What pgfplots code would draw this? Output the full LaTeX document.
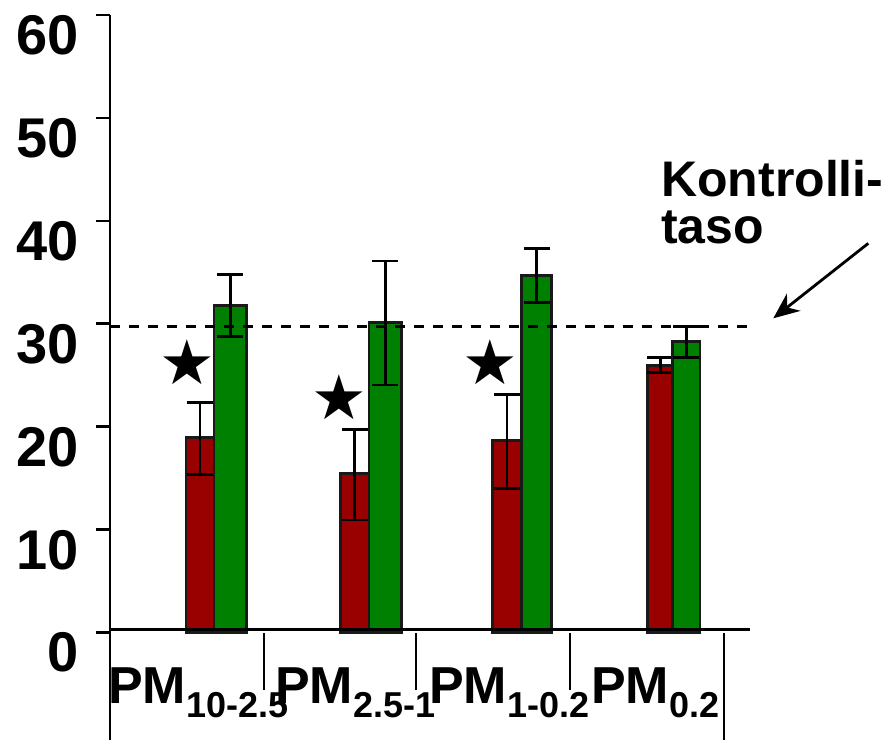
\documentclass[border=0pt]{standalone}
\usepackage{fontspec}
\setmainfont{Liberation Sans}
\newfontfamily\symfont{DejaVu Sans}
\usepackage{pgfplots}
\pgfplotsset{compat=1.18}
\usetikzlibrary{arrows.meta}
\definecolor{barred}{RGB}{153,0,0}
\definecolor{bargreen}{RGB}{0,128,0}
\newcommand{\pmlab}[1]{\bfseries\fontsize{52}{56}\selectfont PM\raisebox{-14pt}{\fontsize{36}{40}\selectfont #1}}
\begin{document}
\begin{tikzpicture}
\useasboundingbox (0pt,0pt) rectangle (887pt,-740pt);
\begin{axis}[
  at={(110pt,-632.7pt)}, anchor=south west,
  scale only axis, width=640pt, height=617.7pt,
  xmin=110, xmax=750, ymin=0, ymax=60,
  clip=false,
  axis line style={draw=none},
  xtick=\empty,
  ytick={0,10,20,30,40,50,60},
  ytick pos=left,
  tick align=outside,
  major tick length=14pt,
  tick style={line width=2.8pt, black},
  /pgf/number format/assume math mode=true,
  yticklabel style={font=\fontsize{56}{60}\selectfont\bfseries, anchor=east, inner sep=0pt, xshift=-17pt, yshift=-20pt},
  error bars/error bar style={line width=2.8pt, black},
  error bars/error mark options={rotate=90, mark size=13pt, line width=2.8pt, black},
  every axis plot/.append style={line width=2.8pt},
]
% red bars
\addplot[ybar, bar width=28pt, bar shift=0pt, fill=barred, draw=black!90,
  error bars/.cd, y dir=both, y explicit] coordinates {(200,19.0) += (0,3.35) -= (0,3.65)};
\addplot[ybar, bar width=28.3pt, bar shift=0pt, fill=barred, draw=black!90,
  error bars/.cd, y dir=both, y explicit] coordinates {(354.8,15.45) += (0,4.25) -= (0,4.5)};
\addplot[ybar, bar width=29.4pt, bar shift=0pt, fill=barred, draw=black!90,
  error bars/.cd, y dir=both, y explicit] coordinates {(507,18.66) += (0,4.51) -= (0,4.66)};
\addplot[ybar, bar width=25pt, bar shift=0pt, fill=barred, draw=black!90,
  error bars/.cd, y dir=both, y explicit] coordinates {(660.2,25.95) += (0,0.75) -= (0,0.68)};
% green bars
\addplot[ybar, bar width=32.7pt, bar shift=0pt, fill=bargreen, draw=black!90,
  error bars/.cd, y dir=both, y explicit] coordinates {(230.3,31.75) += (0,3.05) -= (0,2.98)};
\addplot[ybar, bar width=32.5pt, bar shift=0pt, fill=bargreen, draw=black!90,
  error bars/.cd, y dir=both, y explicit] coordinates {(385.2,30.16) += (0,5.94) -= (0,6.09)};
\addplot[ybar, bar width=30pt, bar shift=0pt, fill=bargreen, draw=black!90,
  error bars/.cd, y dir=both, y explicit] coordinates {(536.7,34.67) += (0,2.63) -= (0,2.63)};
\addplot[ybar, bar width=27.3pt, bar shift=0pt, fill=bargreen, draw=black!90,
  error bars/.cd, y dir=both, y explicit] coordinates {(686.3,28.28) += (0,1.46) -= (0,1.55)};
% stars
\addplot[only marks, mark=text, text mark={\symfont\fontsize{62}{64}\selectfont ★}]
  coordinates {(187.7,26.32) (339,22.92) (490,26.32)};
% control level
\addplot[black, line width=2.8pt, dash pattern=on 10pt off 9pt] coordinates {(110,29.74) (748,29.74)};

% axis lines and separators
\draw[line width=2.8pt] (axis cs:110,60) -- (axis cs:110,-10.42);
\draw[line width=2.8pt] (axis cs:110,0.35) -- (axis cs:750,0.35);
\draw[line width=2.8pt] (axis cs:264,-0.03) -- (axis cs:264,-5.57);
\draw[line width=2.8pt] (axis cs:416,-0.03) -- (axis cs:416,-5.57);
\draw[line width=2.8pt] (axis cs:570,-0.03) -- (axis cs:570,-5.57);
\draw[line width=2.8pt] (axis cs:724,-0.03) -- (axis cs:724,-10.42);

% category labels
\node[anchor=base west, inner sep=0pt] at (axis cs:108,-6.83) {\pmlab{10-2.5}};
\node[anchor=base west, inner sep=0pt] at (axis cs:275,-6.83) {\pmlab{2.5-1}};
\node[anchor=base west, inner sep=0pt] at (axis cs:429,-6.83) {\pmlab{1-0.2}};
\node[anchor=base west, inner sep=0pt] at (axis cs:591,-6.83) {\pmlab{0.2}};
% annotation
\node[anchor=base west, inner sep=0pt] at (axis cs:661,42.35) {\bfseries\fontsize{50}{54}\selectfont Kontrolli-};
\node[anchor=base west, inner sep=0pt] at (axis cs:661,37.82) {\bfseries\fontsize{50}{54}\selectfont taso};
\draw[line width=2.8pt, -{Stealth[length=26pt, width=22pt]}] (axis cs:868.3,37.82) -- (axis cs:773.3,30.54);
\end{axis}
\end{tikzpicture}
\end{document}
